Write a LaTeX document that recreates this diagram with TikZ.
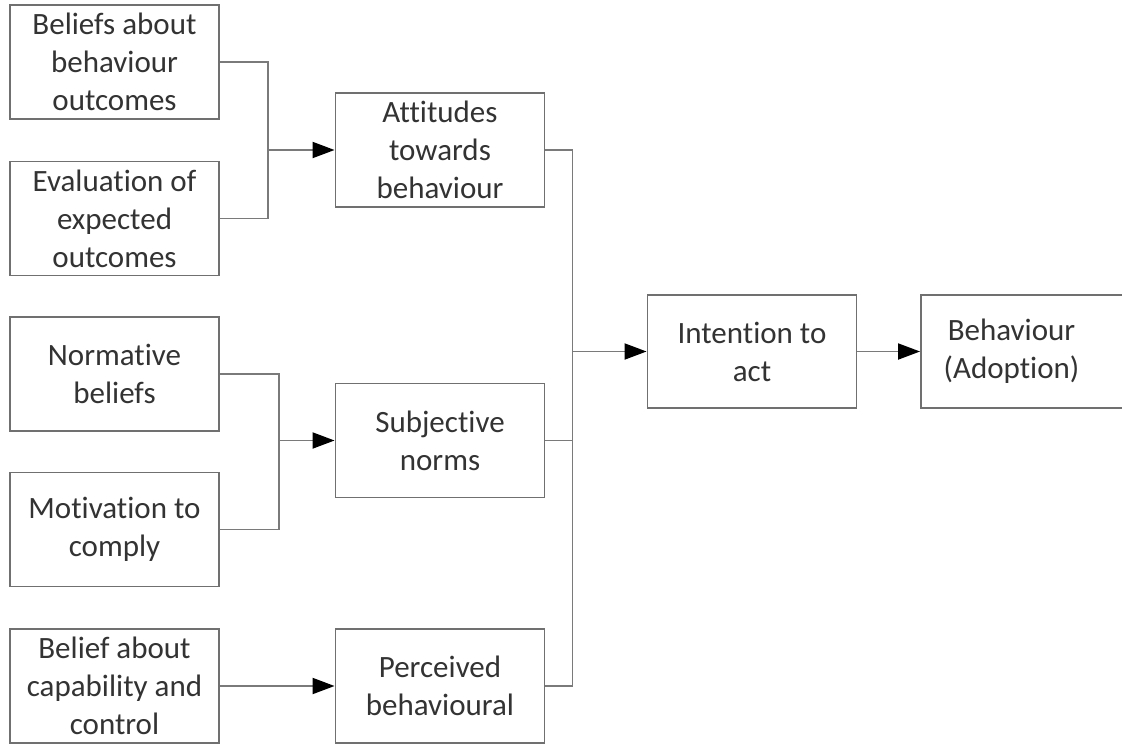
\documentclass[tikz,border=0pt]{standalone}
\usepackage{fontspec}
\setmainfont[Ligatures={NoCommon,NoDiscretionary}]{Carlito}
\usetikzlibrary{arrows.meta}
\definecolor{boxline}{HTML}{707070}
\definecolor{conline}{HTML}{7A7A7A}
\definecolor{txt}{HTML}{333333}
\begin{document}
\begin{tikzpicture}[x=1pt,y=1pt,
  box/.style={draw=boxline, line width=1.9pt, minimum width=209pt, minimum height=114pt,
    inner sep=0pt, align=center, text=txt,
    font=\fontsize{31pt}{38pt}\selectfont},
  conn/.style={draw=conline, line width=1.9pt},
  arr/.style={conn, -{Triangle[length=22pt,width=16pt,color=black]}}]
\useasboundingbox (0,0) rectangle (1122,-744);
\fill[white] (0,0) rectangle (1122,-744);
\node[box] (b1) at (114.5,-62) {Beliefs about\\behaviour\\outcomes};
\node[box] (b2) at (114.5,-218.5) {Evaluation of\\expected\\outcomes};
\node[box] (b3) at (114.5,-374) {Normative\\beliefs};
\node[box] (b4) at (114.5,-529.5) {Motivation to\\comply};
\node[box] (b5) at (114.5,-686) {Belief about\\capability and\\control};
\node[box] (att) at (440,-150) {Attitudes\\towards\\behaviour};
\node[box] (subj) at (440,-440.5) {Subjective\\norms};
\node[box] (perc) at (440,-686) {Perceived\\behavioural};
\node[box, minimum height=113pt] (int) at (752,-351.5) {Intention to\\act};
\node[box, minimum height=113pt] (beh) at (1025.5,-351.5) {\begin{tabular}{@{}c@{}}Behaviour\\(Adoption)\end{tabular}\hspace*{28pt}};
\coordinate (m1) at (268,-150);
\coordinate (m2) at (279,-440.5);
\coordinate (m3) at (572.5,-351.5);
\draw[conn] (b1.east) -| (m1) |- (b2.east);
\draw[arr] (m1) -- (att.west);
\draw[conn] (b3.east) -| (m2) |- (b4.east);
\draw[arr] (m2) -- (subj.west);
\draw[arr] (b5.east) -- (perc.west);
\draw[conn] (att.east) -| (m3) |- (perc.east);
\draw[conn] (subj.east) -- (subj.east -| m3);
\draw[arr] (m3) -- (int.west);
\draw[arr] (int.east) -- (beh.west);
\end{tikzpicture}
\end{document}
